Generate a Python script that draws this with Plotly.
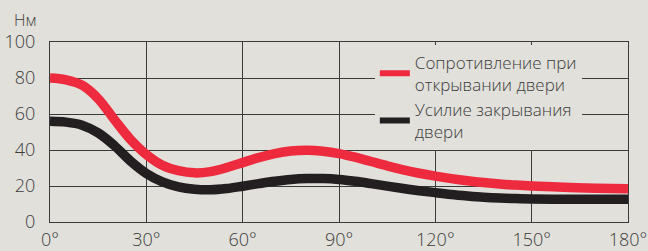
import plotly.graph_objects as go

angles = [0, 5, 10, 15, 20, 25, 30, 35, 40, 45, 50, 55, 60, 65, 70, 75, 80, 85, 90,
          95, 100, 105, 110, 115, 120, 125, 130, 135, 140, 145, 150, 160, 170, 180]
opening_resistance = [80, 79, 76, 68.5, 57, 46, 37.5, 31.5, 28.5, 27.3, 28, 30.2, 33, 35.8,
                      38, 39.4, 39.8, 39.3, 38, 36, 33.6, 31.2, 29, 27.1, 25.5, 24.1, 22.9,
                      21.9, 21.1, 20.5, 20, 19.3, 18.8, 18.5]
closing_force = [56, 55.5, 53.8, 49.5, 42.5, 34, 27, 22.3, 19.5, 18.2, 17.9, 18.6, 19.9,
                 21.3, 22.6, 23.6, 24.1, 24.1, 23.6, 22.6, 21.3, 19.9, 18.6, 17.4, 16.3,
                 15.3, 14.5, 13.8, 13.3, 13, 12.8, 12.6, 12.6, 12.6]

series_names = ["Сопротивление при<br>открывании двери", "Усилие закрывания<br>двери"]
x_ticks = [0, 30, 60, 90, 120, 150, 180]
x_tick_labels = ["0°", "30°", "60°", "90°", "120°", "150°", "180°"]
y_ticks = [0, 20, 40, 60, 80, 100]
unit_label = "Нм"

BG = "#e1e0da"
RED = "#ee2b3e"
BLACK = "#231f20"
GRID = "#3a3a3a"
TEXT = "#3c3c3c"
FONT = "Open Sans"

fig = go.Figure()
for vals, color in [(opening_resistance, RED), (closing_force, BLACK)]:
    fig.add_trace(go.Scatter(x=angles, y=vals, mode="lines",
                             line=dict(color=color, width=9.5, shape="spline", smoothing=1),
                             showlegend=False, hoverinfo="skip"))
for name, color in [(series_names[0], RED), (series_names[1], BLACK)]:
    fig.add_trace(go.Scatter(x=[None], y=[None], mode="lines", name=name,
                             line=dict(color=color, width=6)))

fig.update_layout(
    width=648, height=251,
    margin=dict(l=50, r=20, t=42, b=29),
    paper_bgcolor=BG, plot_bgcolor=BG,
    font=dict(family=FONT, color=TEXT, size=17, weight=300),
    legend=dict(x=0.562, y=0.985, xanchor="left", yanchor="top",
                bgcolor=BG, borderwidth=0, font=dict(size=17, color=TEXT, weight=300),
                itemwidth=30, tracegroupgap=0),
    shapes=[dict(type="rect", xref="paper", yref="paper", x0=0.5675, x1=0.993,
                 y0=0.41, y1=0.978, fillcolor=BG, line=dict(width=0), layer="between")],
    annotations=[dict(text=unit_label, x=-0.043, y=1.12, xref="paper", yref="paper",
                      xanchor="center", yanchor="middle", showarrow=False,
                      font=dict(size=16, color=TEXT, weight=300))],
)
fig.update_xaxes(range=[0, 180], tickmode="array", tickvals=x_ticks, ticktext=x_tick_labels,
                 showgrid=True, gridcolor=GRID, gridwidth=1, showline=True, linecolor=GRID,
                 linewidth=1, mirror=True, zeroline=False, ticks="", ticklabelstandoff=1,
                 automargin=False, tickfont=dict(size=18, color=TEXT, weight=300))
fig.update_yaxes(range=[0, 100], tickvals=y_ticks, showgrid=True,
                 gridcolor=GRID, gridwidth=1, showline=True, linecolor=GRID, linewidth=1,
                 mirror=True, zeroline=False, ticks="", ticklabelstandoff=10,
                 automargin=False, tickfont=dict(size=18, color=TEXT, weight=300))

fig.write_html("out.html", config={"displayModeBar": False},
               post_script="document.body.style.margin='0';")
